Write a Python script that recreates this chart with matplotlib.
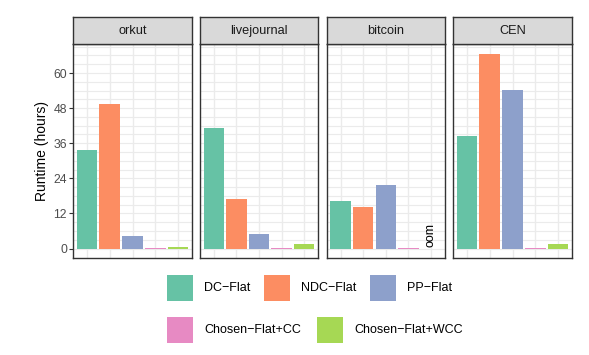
import matplotlib
matplotlib.use("Agg")
import matplotlib.pyplot as plt
from matplotlib.patches import Rectangle

plt.rcParams['font.family'] = ['Liberation Sans', 'DejaVu Sans']

datasets = ["orkut", "livejournal", "bitcoin", "CEN"]
methods = ["DC−Flat", "NDC−Flat", "PP−Flat", "Chosen−Flat+CC", "Chosen−Flat+WCC"]
colors = ["#66c2a5", "#fc8d62", "#8da0cb", "#e78ac3", "#a6d854"]
# runtime in hours; None = out of memory
dc_flat = [33.8, 41.1, 16.2, 38.6]
ndc_flat = [49.4, 16.8, 14.2, 66.6]
pp_flat = [4.3, 4.9, 21.6, 54.1]
chosen_cc = [0.25, 0.25, 0.25, 0.25]
chosen_wcc = [0.6, 1.6, None, 1.4]
series = [dc_flat, ndc_flat, pp_flat, chosen_cc, chosen_wcc]
yticks = [0, 12, 24, 36, 48, 60]

W, H = 589, 355
fig = plt.figure(figsize=(W / 100, H / 100), dpi=100)

def box(l, t, r, b):
    return [l / W, 1 - b / H, (r - l) / W, (b - t) / H]

panels = [(73.3, 191.7), (200.3, 317.7), (327.0, 444.5), (453.3, 571.7)]
top, bottom, strip_top = 44.0, 258.3, 16.7

vmax = max(v for s in series for v in s if v is not None)
ylo, yhi = -0.05 * vmax, 1.05 * vmax

for i, (l, r) in enumerate(panels):
    ax = fig.add_axes(box(l, top, r, bottom))
    ax.set_xlim(0.4, 5.6)
    ax.set_ylim(ylo, yhi)
    for g in range(0, 72, 3):
        ax.axhline(g, color="#ebebeb", lw=0.8, zorder=0)
    for x in range(1, 6):
        ax.axvline(x, color="#ebebeb", lw=1.0, zorder=0)
    for j, s in enumerate(series):
        v = s[i]
        if v is None:
            ax.text(j + 1, 0.5, "oom", rotation=90, ha="center", va="bottom",
                    fontsize=9, color="black")
        else:
            ax.bar(j + 1, v, width=0.9, color=colors[j], zorder=2, linewidth=0)
    ax.set_xticks([])
    if i == 0:
        ax.set_yticks(yticks)
        ax.set_yticklabels([str(t) for t in yticks])
        ax.tick_params(axis="y", length=3, width=0.8, color="#333333",
                       labelcolor="#4d4d4d", labelsize=8.8, pad=1.5)
        ax.set_ylabel("Runtime (hours)", fontsize=10, color="black", labelpad=3)
    else:
        ax.set_yticks([])
    for sp in ax.spines.values():
        sp.set_color("#333333")
        sp.set_linewidth(1.0)
    sax = fig.add_axes(box(l, strip_top, r, top))
    sax.set_facecolor("#d9d9d9")
    sax.set_xticks([]); sax.set_yticks([])
    for sp in sax.spines.values():
        sp.set_color("#333333")
        sp.set_linewidth(1.0)
    sax.text(0.5, 0.47, datasets[i], ha="center", va="center",
             fontsize=9.2, color="#1a1a1a", transform=sax.transAxes)

# legend drawn manually in figure pixel coords
lax = fig.add_axes([0, 0, 1, 1])
lax.set_xlim(0, W); lax.set_ylim(H, 0)
lax.axis("off")
legend_pos = [(167.3, 275, 204), (263.7, 275, 301), (370, 275, 407),
              (167.3, 317, 204), (317, 317, 354)]
for j, (kx, ky, tx) in enumerate(legend_pos):
    lax.add_patch(Rectangle((kx, ky), 26, 26, facecolor=colors[j], edgecolor="none"))
    lax.text(tx, ky + 13, methods[j], ha="left", va="center", fontsize=9, color="black")

fig.savefig("out.png", dpi=100)
